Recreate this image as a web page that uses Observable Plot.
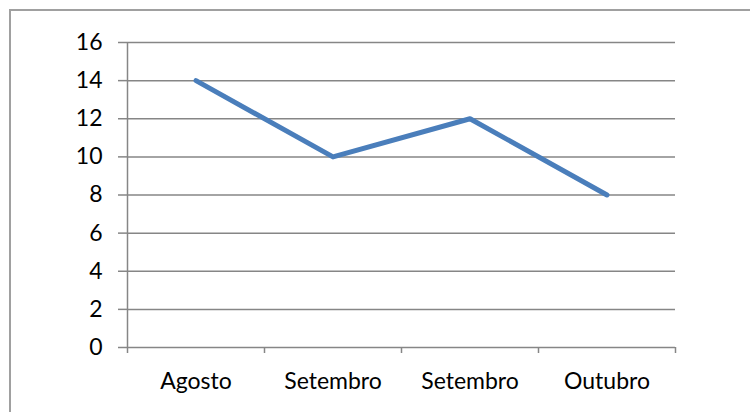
<!DOCTYPE html>
<html>
<head>
<meta charset="utf-8">
<script src="https://cdn.jsdelivr.net/npm/d3@7"></script>
<script src="https://cdn.jsdelivr.net/npm/@observablehq/plot@0.6"></script>
<style>
  html, body { margin: 0; padding: 0; background: #fff; }
  #wrap { position: relative; width: 750px; height: 412px; overflow: hidden; }
  #frame {
    position: absolute; left: 9px; top: 9px; width: 800px; height: 500px;
    border-top: 2px solid #a0a0a0; border-left: 2px solid #a0a0a0;
    box-sizing: border-box; pointer-events: none;
  }
  #chart { position: absolute; left: 0; top: 0; }
</style>
</head>
<body>
<div id="wrap"><div id="chart"></div><div id="frame"></div></div>
<script>
// Monthly series
const months = ["Agosto", "Setembro", "Setembro", "Outubro"];
const values = [14, 10, 12, 8];
const yTicks = [0, 2, 4, 6, 8, 10, 12, 14, 16];

// Categories sit in the middle of each slot; ticks mark slot boundaries
const rows = months.map((m, i) => ({pos: i + 0.5, label: m, value: values[i]}));
const boundaries = d3.range(months.length + 1);
const centers = rows.map(d => d.pos);

const gridColor = "#868686";
const font = "Lato, 'Open Sans', sans-serif";

const chart = Plot.plot({
  width: 750,
  height: 412,
  marginLeft: 127,
  marginRight: 75,
  marginTop: 42,
  marginBottom: 65,
  style: {fontFamily: font, fontSize: "23px", color: "#000", background: "transparent"},
  x: {type: "linear", domain: [0, months.length], axis: null, label: null},
  y: {domain: [0, 16], axis: null, label: null},
  marks: [
    Plot.gridY(yTicks, {stroke: gridColor, strokeOpacity: 1, strokeWidth: 1.5}),
    Plot.axisY(yTicks, {label: null, tickSize: 9, tickPadding: 16, stroke: gridColor, strokeWidth: 1.5, fill: "#000", fontSize: 23}),
    Plot.ruleX([0], {stroke: gridColor, strokeWidth: 1.5}),
    Plot.axisX(boundaries, {label: null, tickSize: 6, tickFormat: () => "", stroke: gridColor, strokeWidth: 1.5}),
    Plot.axisX(centers, {
      label: null, tickSize: 0, tickPadding: 25, fill: "#000", fontSize: 23,
      tickFormat: (d) => rows.find(r => r.pos === d).label
    }),
    Plot.lineY(rows, {
      x: "pos", y: "value", stroke: "#4a7ebb", strokeWidth: 5,
      strokeLinejoin: "round", strokeLinecap: "round"
    })
  ]
});

document.getElementById("chart").appendChild(chart);
</script>
</body>
</html>
